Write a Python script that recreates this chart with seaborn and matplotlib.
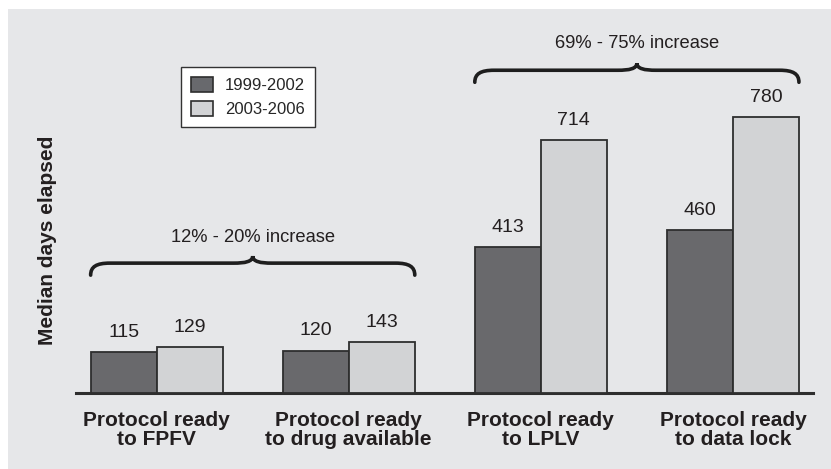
import numpy as np
import pandas as pd
import seaborn as sns
import matplotlib.pyplot as plt
from matplotlib.path import Path
from matplotlib.patches import PathPatch, Rectangle, Patch

stages = ["Protocol ready\nto FPFV", "Protocol ready\nto drug available",
          "Protocol ready\nto LPLV", "Protocol ready\nto data lock"]
periods = ["1999-2002", "2003-2006"]
days_early = [115, 120, 413, 460]
days_late = [129, 143, 714, 780]
brace_labels = ["12% - 20% increase", "69% - 75% increase"]
brace_groups = [(0, 1), (2, 3)]

FONT = ["Liberation Sans", "DejaVu Sans"]
DARK = "#68696d"
LIGHT = "#d2d3d5"
EDGE = "#2e2e2e"
PANEL = "#e6e7e9"


def draw_brace(ax, x0, x1, y, drop, rise, rx):
    xm = (x0 + x1) / 2
    verts = [(x0, y - drop), (x0, y - drop * 0.3), (x0 + rx * 0.3, y), (x0 + rx, y),
             (xm - rx, y),
             (xm - rx * 0.4, y), (xm, y + rise * 0.2), (xm, y + rise),
             (xm, y + rise * 0.2), (xm + rx * 0.4, y), (xm + rx, y),
             (x1 - rx, y),
             (x1 - rx * 0.3, y), (x1, y - drop * 0.3), (x1, y - drop)]
    codes = [Path.MOVETO, Path.CURVE4, Path.CURVE4, Path.CURVE4,
             Path.LINETO,
             Path.CURVE4, Path.CURVE4, Path.CURVE4,
             Path.CURVE4, Path.CURVE4, Path.CURVE4,
             Path.LINETO,
             Path.CURVE4, Path.CURVE4, Path.CURVE4]
    ax.add_patch(PathPatch(Path(verts, codes), facecolor="none", edgecolor="#1e1e1e",
                           lw=2.6, capstyle="round", clip_on=False))


df = pd.DataFrame({
    "stage": stages * 2,
    "period": [periods[0]] * 4 + [periods[1]] * 4,
    "days": days_early + days_late,
})

sns.set_theme(style="white")
plt.rcParams["font.family"] = FONT

fig = plt.figure(figsize=(8.31, 4.69), dpi=100, facecolor="white")
fig.patches.append(Rectangle((8 / 831, 0), 1, 1 - 9 / 469, transform=fig.transFigure,
                             facecolor=PANEL, edgecolor="none", zorder=-5))
ax = fig.add_axes([76 / 831, 1 - 393 / 469, 737 / 831, 373 / 469])
ax.set_facecolor("none")

bar_w = 0.6875
sns.barplot(data=df, x="stage", y="days", hue="period", palette=[DARK, LIGHT],
            width=bar_w, gap=0, edgecolor=EDGE, linewidth=1.3, ax=ax, zorder=3)
ax.get_legend().remove()

ax.set_xlim(-0.42, 3.417)
ax.set_ylim(0, 1054)
for s in ["left", "right", "top"]:
    ax.spines[s].set_visible(False)
ax.spines["bottom"].set_color(EDGE)
ax.spines["bottom"].set_linewidth(2.2)
ax.set_yticks([])
ax.set_xlabel("")

ax.set_xticks(range(len(stages)))
ax.set_xticklabels(stages, fontweight="bold", fontsize=15,
                   color="#231f20", linespacing=1.0)
ax.tick_params(axis="x", which="major", length=0, pad=13)
ax.set_xticks([0.5, 1.5, 2.5], minor=True)
ax.tick_params(axis="x", which="minor", length=5, width=1.2, color=EDGE, direction="out")

ax.set_ylabel("Median days elapsed", fontweight="bold", fontsize=15, color="#231f20")
ax.yaxis.set_label_coords(-0.026, 0.41)

# value labels
half = bar_w / 4
for i in range(len(stages)):
    for off, val in [(-half, days_early[i]), (half, days_late[i])]:
        ax.annotate(str(val), (i + off, val), xytext=(0, 8), textcoords="offset points",
                    ha="center", va="bottom", fontsize=14, color="#231f20")

# braces
brace_y = [367, 912]
brace_text_y = [440, 988]
for (g0, g1), lab, by, ty in zip(brace_groups, brace_labels, brace_y, brace_text_y):
    x0 = g0 - bar_w / 2
    x1 = g1 + bar_w / 2
    draw_brace(ax, x0, x1, by, 34, 20, 0.1)
    ax.text((x0 + x1) / 2, ty, lab, ha="center", va="center", fontsize=13.2, color="#231f20")

handles = [Patch(facecolor=DARK, edgecolor=EDGE, lw=1.2),
           Patch(facecolor=LIGHT, edgecolor=EDGE, lw=1.2)]
leg = fig.legend(handles, periods, loc="upper left", bbox_to_anchor=(181 / 831, 1 - 67 / 469),
                 fontsize=12, frameon=True, fancybox=False, handlelength=1.3,
                 handleheight=1.0, handletextpad=0.75, labelspacing=0.45,
                 borderpad=0.6, borderaxespad=0)
leg.get_frame().set_edgecolor("#333333")
leg.get_frame().set_linewidth(1.0)
leg.get_frame().set_facecolor("white")
leg.get_frame().set_alpha(1)

fig.savefig("out.png", dpi=100, facecolor="white")
